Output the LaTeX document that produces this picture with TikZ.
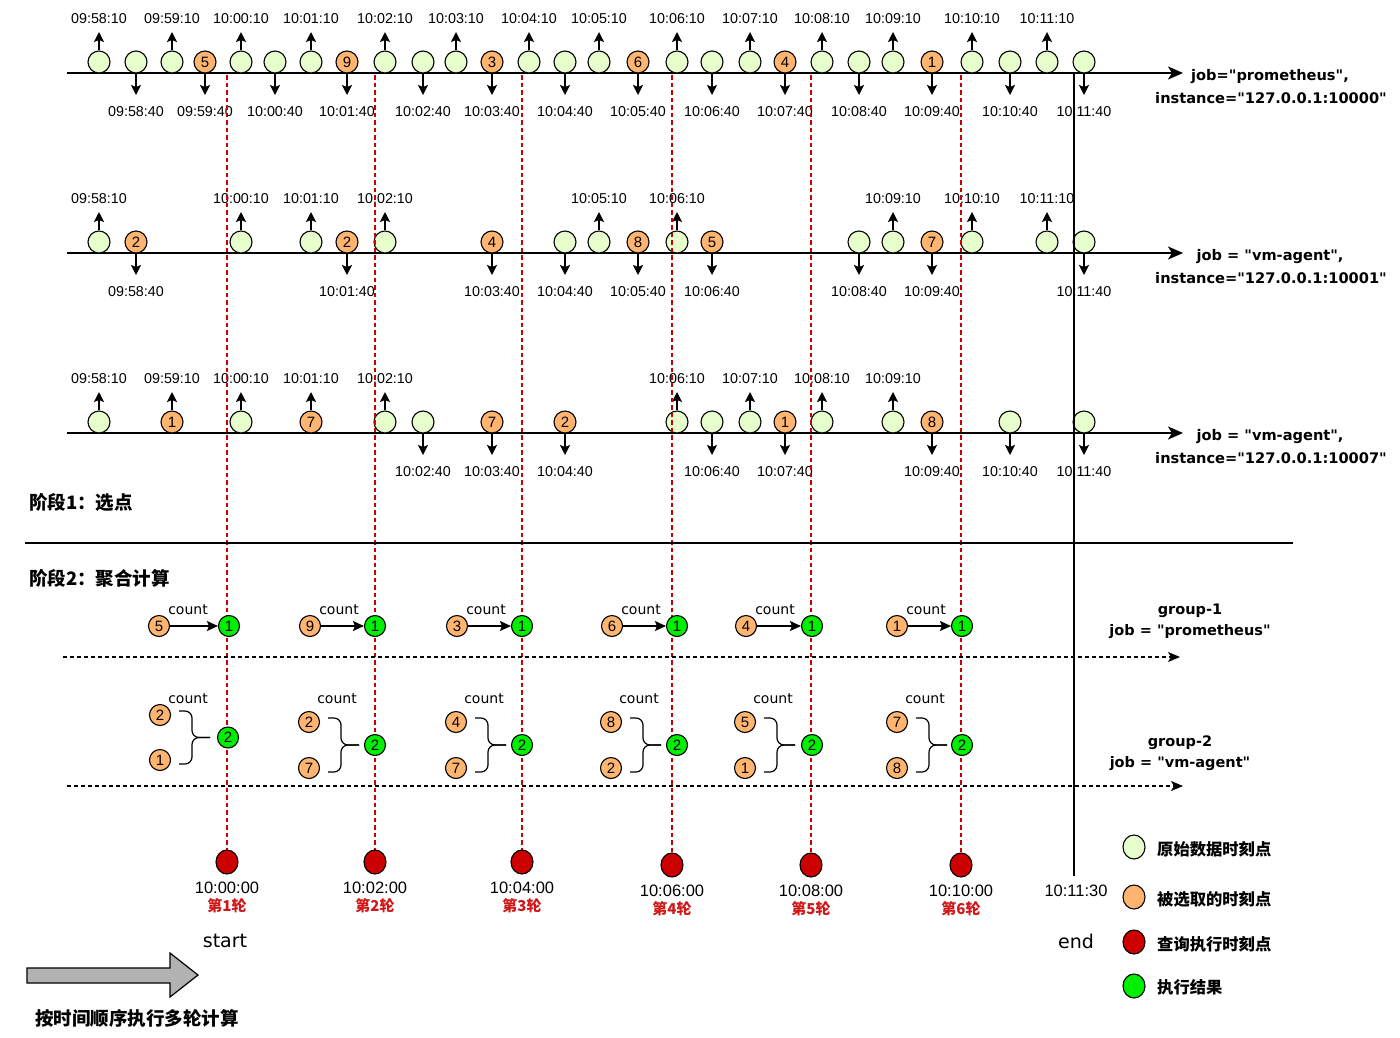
\documentclass[tikz,border=0pt]{standalone}
\usepackage{fontspec}
\setmainfont{Liberation Sans}
\newfontfamily\lib{Liberation Sans}
\newfontfamily\dv{DejaVu Sans}
\newfontfamily\cjk{Noto Sans CJK SC}
\usetikzlibrary{arrows.meta,shapes.geometric}
\definecolor{lgreen}{HTML}{E6FFCC}
\definecolor{orng}{HTML}{FFB570}
\definecolor{rred}{HTML}{CC0000}
\definecolor{ggreen}{HTML}{00EE00}
\definecolor{dred}{HTML}{D01818}
% timeline point: #1 name, #2 x, #3 cy, #4 style, #5 text, #6 dir (1 up / 0 down), #7 label
\newcommand\tpt[7]{%
  \node[#4] (#1) at (#2,#3) {#5};
  \ifnum#6=1
    \coordinate (#1t) at (#2,#3-30);
    \node[tlab] (#1l) at (#2,#3-43) {#7};
  \else
    \coordinate (#1t) at (#2,#3+33);
    \node[tlab] (#1l) at (#2,#3+50) {#7};
  \fi
  \draw[parr] (#1) -- (#1t);
}
% group 1: #1 name, #2 orange x, #3 green x, #4 number
\newcommand\grpa[4]{%
  \node[s2o] (#1a) at (#2,626) {#4};
  \node[s2g] (#1g) at (#3,626) {1};
  \draw[carr] (#1a) -- (#1g);
  \node[cnt] (#1c) at (#2+29,610) {count};
}
% group 2: #1 name, #2 orange x, #3 green x, #4 top y, #5 bottom y, #6 n1, #7 n2
\newcommand\grpb[7]{%
  \pgfmathsetmacro\mymid{(#4+#5)/2}
  \node[s2o] (#1a) at (#2,#4) {#6};
  \node[s2o] (#1b) at (#2,#5) {#7};
  \node[s2g] (#1g) at (#3,\mymid) {2};
  \draw[brc] (#2+19,#4-4) -| (#2+32,\mymid) -- (#2+50,\mymid);
  \draw[brc] (#2+19,#5+4) -| (#2+32,\mymid) -- (#2+50,\mymid);
  \node[cnt] (#1c) at (#2+28,699) {count};
}
% dashed round line: #1 name, #2 x, #3 y of round circle
\newcommand\rdl[3]{%
  \coordinate (#1top) at (#2,75);
  \coordinate (#1bot) at (#2,#3-12);
  \draw[rdash] (#1top) -- (#1bot);
}
% round: #1 name, #2 x, #3 y, #4 time, #5 n
\newcommand\rnd[5]{%
  \node[qc] (#1) at (#2,#3) {};
  \node[btime] (#1t) at (#2,#3+26) {#4};
  \node[rlab] (#1r) at (#2,#3+44) {第#5轮};
}
\begin{document}
\begin{tikzpicture}[x=1pt,y=-1pt,
  dat/.style={circle,draw,line width=1.1pt,fill=lgreen,minimum size=22pt,inner sep=0pt,font=\lib\fontsize{15}{15}\selectfont},
  sel/.style={dat,fill=orng},
  s2o/.style={circle,draw,line width=1.1pt,fill=orng,minimum size=21pt,inner sep=0pt,font=\lib\fontsize{15}{15}\selectfont},
  s2g/.style={s2o,fill=ggreen},
  qc/.style={ellipse,draw,line width=1.1pt,fill=rred,minimum width=22pt,minimum height=24pt,inner sep=0pt},
  tlab/.style={inner sep=0pt,font=\lib\fontsize{14.3}{16}\selectfont},
  cnt/.style={inner sep=0pt,font=\dv\fontsize{14}{16}\selectfont},
  btime/.style={inner sep=0pt,font=\lib\fontsize{16.5}{18}\selectfont},
  rlab/.style={inner sep=0pt,text=dred,font=\cjk\bfseries\fontsize{15}{17}\selectfont},
  jlab/.style={inner sep=0pt,font=\dv\bfseries\fontsize{14.6}{17}\selectfont},
  glab/.style={inner sep=0pt,font=\dv\bfseries\fontsize{14.5}{17}\selectfont},
  hd/.style={inner sep=0pt,anchor=west,font=\cjk\bfseries\fontsize{18.5}{21}\selectfont},
  leg/.style={inner sep=0pt,anchor=west,font=\cjk\bfseries\fontsize{16.3}{18}\selectfont},
  big/.style={inner sep=0pt,font=\dv\fontsize{19}{22}\selectfont},
  parr/.style={line width=1.5pt,-{Stealth[length=10pt,width=10pt,inset=2pt]}},
  carr/.style={line width=1.5pt,-{Stealth[length=11pt,width=10pt,inset=2pt]}},
  tline/.style={line width=2pt,-{Stealth[length=15pt,width=13pt,inset=4pt]}},
  gline/.style={line width=1.4pt,dash pattern=on 4pt off 3pt,-{Stealth[length=12pt,width=10pt,inset=3pt]}},
  rdash/.style={line width=1.2pt,draw=rred,dash pattern=on 4.5pt off 3pt},
  brc/.style={line width=1.2pt,rounded corners=7pt},
]
\useasboundingbox (0,0) rectangle (1400,1037);
\fill[white] (0,0) rectangle (1400,1037);

% ---------- timelines ----------
\foreach \n/\y in {1/73,2/253,3/433}{
  \coordinate (Ls\n) at (67,\y);
  \coordinate (Le\n) at (1183,\y);
  \draw[tline] (Ls\n) -- (Le\n);
}
\node[jlab] (j1a) at (1270,77) {job="prometheus",};
\node[jlab] (j1b) at (1271,98) {instance="127.0.0.1:10000"};
\node[jlab] (j2a) at (1270,257) {job = "vm-agent",};
\node[jlab] (j2b) at (1271,278) {instance="127.0.0.1:10001"};
\node[jlab] (j3a) at (1270,437) {job = "vm-agent",};
\node[jlab] (j3b) at (1271,458) {instance="127.0.0.1:10007"};

% ---------- row 1 ----------
\tpt{a1}{99}{62}{dat}{}{1}{09:58:10}
\tpt{a2}{136}{62}{dat}{}{0}{09:58:40}
\tpt{a3}{172}{62}{dat}{}{1}{09:59:10}
\tpt{a4}{205}{62}{sel}{5}{0}{09:59:40}
\tpt{a5}{241}{62}{dat}{}{1}{10:00:10}
\tpt{a6}{275}{62}{dat}{}{0}{10:00:40}
\tpt{a7}{311}{62}{dat}{}{1}{10:01:10}
\tpt{a8}{347}{62}{sel}{9}{0}{10:01:40}
\tpt{a9}{385}{62}{dat}{}{1}{10:02:10}
\tpt{a10}{423}{62}{dat}{}{0}{10:02:40}
\tpt{a11}{456}{62}{dat}{}{1}{10:03:10}
\tpt{a12}{492}{62}{sel}{3}{0}{10:03:40}
\tpt{a13}{529}{62}{dat}{}{1}{10:04:10}
\tpt{a14}{565}{62}{dat}{}{0}{10:04:40}
\tpt{a15}{599}{62}{dat}{}{1}{10:05:10}
\tpt{a16}{638}{62}{sel}{6}{0}{10:05:40}
\tpt{a17}{677}{62}{dat}{}{1}{10:06:10}
\tpt{a18}{712}{62}{dat}{}{0}{10:06:40}
\tpt{a19}{750}{62}{dat}{}{1}{10:07:10}
\tpt{a20}{785}{62}{sel}{4}{0}{10:07:40}
\tpt{a21}{822}{62}{dat}{}{1}{10:08:10}
\tpt{a22}{859}{62}{dat}{}{0}{10:08:40}
\tpt{a23}{893}{62}{dat}{}{1}{10:09:10}
\tpt{a24}{932}{62}{sel}{1}{0}{10:09:40}
\tpt{a25}{972}{62}{dat}{}{1}{10:10:10}
\tpt{a26}{1010}{62}{dat}{}{0}{10:10:40}
\tpt{a27}{1047}{62}{dat}{}{1}{10:11:10}
\tpt{a28}{1084}{62}{dat}{}{0}{10:11:40}

% ---------- row 2 ----------
\tpt{b1}{99}{242}{dat}{}{1}{09:58:10}
\tpt{b2}{136}{242}{sel}{2}{0}{09:58:40}
\tpt{b3}{241}{242}{dat}{}{1}{10:00:10}
\tpt{b4}{311}{242}{dat}{}{1}{10:01:10}
\tpt{b5}{347}{242}{sel}{2}{0}{10:01:40}
\tpt{b6}{385}{242}{dat}{}{1}{10:02:10}
\tpt{b7}{492}{242}{sel}{4}{0}{10:03:40}
\tpt{b8}{565}{242}{dat}{}{0}{10:04:40}
\tpt{b9}{599}{242}{dat}{}{1}{10:05:10}
\tpt{b10}{638}{242}{sel}{8}{0}{10:05:40}
\tpt{b11}{677}{242}{dat}{}{1}{10:06:10}
\tpt{b12}{712}{242}{sel}{5}{0}{10:06:40}
\tpt{b13}{859}{242}{dat}{}{0}{10:08:40}
\tpt{b14}{893}{242}{dat}{}{1}{10:09:10}
\tpt{b15}{932}{242}{sel}{7}{0}{10:09:40}
\tpt{b16}{972}{242}{dat}{}{1}{10:10:10}
\tpt{b17}{1047}{242}{dat}{}{1}{10:11:10}
\tpt{b18}{1084}{242}{dat}{}{0}{10:11:40}

% ---------- row 3 ----------
\tpt{c1}{99}{422}{dat}{}{1}{09:58:10}
\tpt{c2}{172}{422}{sel}{1}{1}{09:59:10}
\tpt{c3}{241}{422}{dat}{}{1}{10:00:10}
\tpt{c4}{311}{422}{sel}{7}{1}{10:01:10}
\tpt{c5}{385}{422}{dat}{}{1}{10:02:10}
\tpt{c6}{423}{422}{dat}{}{0}{10:02:40}
\tpt{c7}{492}{422}{sel}{7}{0}{10:03:40}
\tpt{c8}{565}{422}{sel}{2}{0}{10:04:40}
\tpt{c9}{677}{422}{dat}{}{1}{10:06:10}
\tpt{c10}{712}{422}{dat}{}{0}{10:06:40}
\tpt{c11}{750}{422}{dat}{}{1}{10:07:10}
\tpt{c12}{785}{422}{sel}{1}{0}{10:07:40}
\tpt{c13}{822}{422}{dat}{}{1}{10:08:10}
\tpt{c14}{893}{422}{dat}{}{1}{10:09:10}
\tpt{c15}{932}{422}{sel}{8}{0}{10:09:40}
\tpt{c16}{1010}{422}{dat}{}{0}{10:10:40}
\tpt{c17}{1084}{422}{dat}{}{0}{10:11:40}

% ---------- red dashed round lines ----------
\rdl{r1}{227}{862}
\rdl{r2}{375}{862}
\rdl{r3}{522}{862}
\rdl{r4}{672}{865}
\rdl{r5}{811}{865}
\rdl{r6}{961}{865}

% end line
\coordinate (ea) at (1074,73);
\coordinate (eb) at (1074,876);
\draw[line width=1.5pt] (ea) -- (eb);

% ---------- headings and separator ----------
\node[hd] (h1) at (29,502) {阶段1：选点};
\coordinate (sepa) at (25,543);
\coordinate (sepb) at (1293,543);
\draw[line width=2.5pt] (sepa) -- (sepb);
\node[hd] (h2) at (29,578) {阶段2：聚合计算};

% ---------- stage 2 group 1 ----------
\coordinate (d1s) at (63,657);
\coordinate (d1e) at (1180,657);
\draw[gline] (d1s) -- (d1e);
\grpa{ga}{159}{229}{5}
\grpa{gb}{310}{375}{9}
\grpa{gc}{457}{522}{3}
\grpa{gd}{612}{677}{6}
\grpa{ge}{746}{812}{4}
\grpa{gf}{897}{962}{1}
\node[glab] (g1l) at (1190,611) {group-1};
\node[glab] (g1j) at (1190,632) {job = "prometheus"};

% ---------- stage 2 group 2 ----------
\coordinate (d2s) at (67,786);
\coordinate (d2e) at (1183,786);
\draw[gline] (d2s) -- (d2e);
\grpb{ha}{160}{228}{715}{760}{2}{1}
\grpb{hb}{309}{375}{722}{768}{2}{7}
\grpb{hc}{456}{522}{722}{768}{4}{7}
\grpb{hd}{611}{677}{722}{768}{8}{2}
\grpb{he}{745}{812}{722}{768}{5}{1}
\grpb{hf}{897}{962}{722}{768}{7}{8}
\node[glab] (g2l) at (1180,743) {group-2};
\node[glab] (g2j) at (1180,764) {job = "vm-agent"};

% ---------- rounds ----------
\rnd{q1}{227}{862}{10:00:00}{1}
\rnd{q2}{375}{862}{10:02:00}{2}
\rnd{q3}{522}{862}{10:04:00}{3}
\rnd{q4}{672}{865}{10:06:00}{4}
\rnd{q5}{811}{865}{10:08:00}{5}
\rnd{q6}{961}{865}{10:10:00}{6}

\node[btime] (et) at (1076,891) {10:11:30};
\node[big] (st) at (225,941) {start};
\node[big] (en) at (1076,941) {end};

% ---------- legend ----------
\node[qc,fill=lgreen] (k1) at (1134,847) {};
\node[leg] (k1t) at (1157,849) {原始数据时刻点};
\node[qc,fill=orng] (k2) at (1134,897) {};
\node[leg] (k2t) at (1157,899) {被选取的时刻点};
\node[qc,fill=rred] (k3) at (1134,942) {};
\node[leg] (k3t) at (1157,944) {查询执行时刻点};
\node[qc,fill=ggreen] (k4) at (1134,986) {};
\node[leg] (k4t) at (1157,987) {执行结果};

% ---------- big arrow ----------
\draw[line width=1.2pt,fill=black!30] (27,968) -- (170,968) -- (170,953) -- (198,975) -- (170,997) -- (170,983) -- (27,983) -- cycle;
\node[inner sep=0pt,font=\cjk\bfseries\fontsize{18.5}{21}\selectfont] (bt) at (137,1018) {按时间顺序执行多轮计算};
\end{tikzpicture}
\end{document}
